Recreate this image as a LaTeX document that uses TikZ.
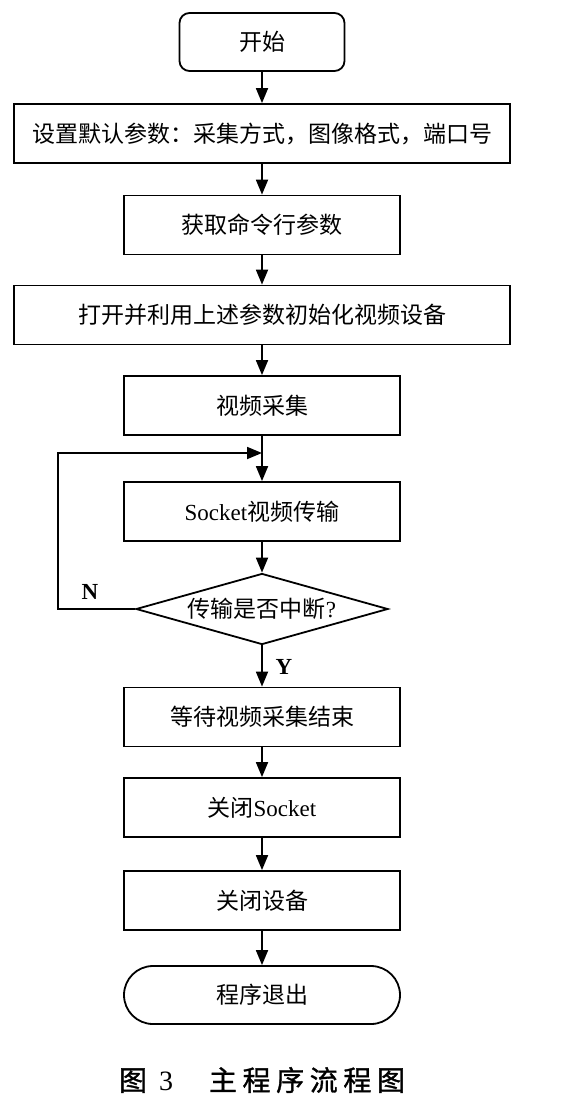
\documentclass[tikz,border=0pt]{standalone}
\usepackage{fontspec}
\setmainfont{Liberation Serif}
\newfontfamily\cjk{Noto Sans CJK SC}
\usetikzlibrary{shapes.geometric,arrows.meta}
\begin{document}
\begin{tikzpicture}[x=1pt,y=-1pt,
  every node/.style={font=\fontsize{23}{27}\selectfont},
  boxw/.style={draw,line width=1.8pt,minimum width=496pt,minimum height=59pt,inner sep=0pt},
  boxn/.style={draw,line width=1.8pt,minimum width=276pt,minimum height=59pt,inner sep=0pt},
  term/.style={draw,line width=1.8pt,minimum width=#1,minimum height=58pt,inner sep=0pt},
  dec/.style={draw,diamond,aspect=3.55,line width=1.8pt,minimum width=252pt,minimum height=71pt,inner sep=0pt},
  arr/.style={-{Triangle[length=15pt,width=12pt]},line width=1.8pt},
  lbl/.style={font=\fontsize{23}{27}\selectfont\bfseries}
]
\useasboundingbox (0,0) rectangle (561,1106);
\node[term=165pt,rounded corners=10pt] (start) at (262,42) {\cjk 开始};
\node[boxw] (b1) at (262,133.5) {\cjk 设置默认参数：采集方式，图像格式，端口号};
\node[boxn] (b2) at (262,225) {\cjk 获取命令行参数};
\node[boxw] (b3) at (262,315) {\cjk 打开并利用上述参数初始化视频设备};
\node[boxn] (b4) at (262,405.5) {\cjk 视频采集};
\node[boxn] (b5) at (262,511.5) {Socket{\cjk 视频传输}};
\node[dec] (d) at (262,609) {{\cjk 传输是否中断}?};
\node[boxn] (b6) at (262,717) {\cjk 等待视频采集结束};
\node[boxn] (b7) at (262,807.5) {{\cjk 关闭}Socket};
\node[boxn] (b8) at (262,900.5) {\cjk 关闭设备};
\node[term=276pt,rounded corners=29pt] (end) at (262,995) {\cjk 程序退出};
\node[font=\fontsize{28}{32}\selectfont] (cap) at (262,1080) {{\cjk\addfontfeatures{FakeBold=1.2} 图}\hspace{12pt}3\hspace{36pt}{\cjk\addfontfeatures{LetterSpace=20,FakeBold=1.2} 主程序流程图}};

\draw[arr] (start) -- (b1);
\draw[arr] (b1) -- (b2);
\draw[arr] (b2) -- (b3);
\draw[arr] (b3) -- (b4);
\draw[arr] (b4) -- (b5);
\draw[arr] (b5) -- (d);
\draw[arr] (d) -- (b6);
\draw[arr] (b6) -- (b7);
\draw[arr] (b7) -- (b8);
\draw[arr] (b8) -- (end);

\coordinate (j) at (262,453);
\coordinate (lc) at (58,453);
\draw[arr] (d.west) -| (lc) -- (j);
\node[lbl] (N) at (90,592) {N};
\node[lbl] (Y) at (284,667) {Y};
\end{tikzpicture}
\end{document}
